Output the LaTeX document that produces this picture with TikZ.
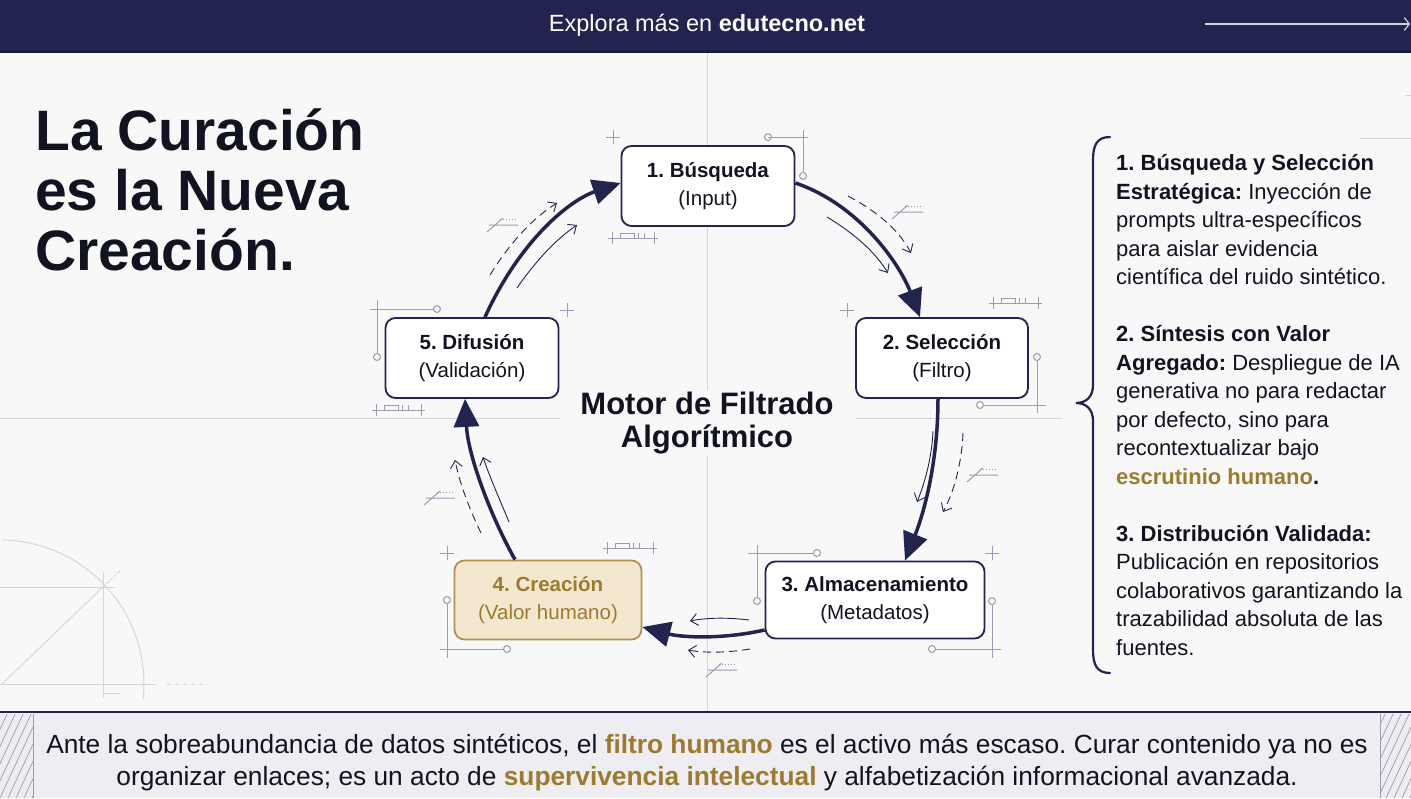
\documentclass[tikz,border=0pt]{standalone}
\usepackage{fontspec}
\setmainfont{Liberation Sans}
\usetikzlibrary{arrows.meta,calc}
\frenchspacing
\definecolor{navy}{HTML}{22244F}
\definecolor{navydk}{HTML}{15163A}
\definecolor{ink}{HTML}{111320}
\definecolor{bg}{HTML}{F8F8F8}
\definecolor{gridc}{HTML}{D4D5DF}
\definecolor{decoc}{HTML}{9A9CB2}
\definecolor{goldfill}{HTML}{F3E8CF}
\definecolor{goldline}{HTML}{B39150}
\definecolor{goldtext}{HTML}{9C7B2F}
\definecolor{bandfill}{HTML}{EDEDF2}
\tikzset{
  stage/.style={draw=navy, line width=1.8pt, rounded corners=10pt, fill=white, align=center,
    font=\fontsize{20.5}{28}\selectfont, text=ink, inner sep=0pt},
  goldstage/.style={stage, draw=goldline, fill=goldfill, text=goldtext},
  mainarrow/.style={draw=navy, line width=3.5pt, -{Triangle[length=28pt,width=25pt]}},
  thinarrow/.style={draw=navy, line width=0.9pt, -{Straight Barb[length=7pt,width=12pt]}},
  dasharrow/.style={thinarrow, dash pattern=on 8pt off 5pt},
  faint/.style={draw=gridc, line width=1pt},
  deco/.style={draw=decoc, line width=1pt},
}
\newcommand\plusmk[2]{\draw[deco] (#1-7,#2)--(#1+7,#2) (#1,#2-7)--(#1,#2+7);}
\newcommand\rulermk[3]{\draw[deco] (#1,#2)--(#1+#3,#2) (#1+4,#2-6)--(#1+4,#2+6) (#1+#3-4,#2-6)--(#1+#3-4,#2+6)
  (#1+12,#2) rectangle (#1+26,#2-5) (#1+30,#2-5)--(#1+30,#2) (#1+36,#2-5)--(#1+36,#2);}
\newcommand\slashmk[2]{\draw[deco] (#1,#2+7)--(#1+16,#2-7) (#1+2,#2)--(#1+31,#2);
  \draw[deco,dotted] (#1+13,#2-6)--(#1+31,#2-6);}
\begin{document}
\begin{tikzpicture}[x=1pt,y=-1pt]
\useasboundingbox (0,0) rectangle (1411,798);
\fill[bg] (0,0) rectangle (1411,798);

% faint grid
\draw[faint] (707,52)--(707,712);
\draw[faint] (0,418)--(560,418) (856,418)--(1062,418);
\draw[faint] (1360,138)--(1411,138) (1405,95)--(1411,95);

% bottom-left construction drawing
\begin{scope}[faint]
\draw (3,540) arc[start angle=-88.8, end angle=6, radius=144];
\draw (0,684)--(156,684);
\draw[dash pattern=on 4pt off 4pt] (167,684)--(208,684);
\draw (0,587)--(115,587);
\draw (103,572)--(103,698) (103,693)--(120,693);
\draw (2,684)--(103,587);
\draw[dash pattern=on 3pt off 2pt] (103,587)--(121,570);
\end{scope}

% header
\fill[navy] (0,0) rectangle (1411,52);
\draw[navydk, line width=2pt] (0,52)--(1411,52);
\node[text=white, font=\fontsize{23.5}{27}\selectfont] (hdr) at (707,25) {Explora más en \textbf{edutecno.net}};
\coordinate (ha) at (1205,24);
\coordinate (hb) at (1410,24);
\draw[white!80!navy, line width=1.2pt, -{Straight Barb[length=5pt,width=13pt]}] (ha)--(hb);

% title
\node[anchor=base west, align=left, inner sep=0pt, text=ink,
  font=\fontsize{57}{60}\selectfont\bfseries] (title) at (35,270)
  {La Curación\\es la Nueva\\Creación.};

% centre label
\node[anchor=base, align=center, inner sep=2pt, fill=bg, text=ink,
  font=\fontsize{31}{33}\selectfont\bfseries] (motor) at (707,447)
  {Motor de Filtrado\\Algorítmico};

% decorations near boxes
\plusmk{613}{137} \plusmk{567}{310} \plusmk{847}{310} \plusmk{992}{553} \plusmk{447}{553}
\rulermk{608}{238}{50} \rulermk{372}{410}{53} \rulermk{989}{303}{53} \rulermk{603}{548}{54}
\begin{scope}[deco]
\draw (768,137)--(808,137) (803,130)--(803,172);
\draw (768,137) circle[radius=3.5] (803,176) circle[radius=3.5];
\draw (370,309)--(433,309) (377,300)--(377,353);
\draw (437,309) circle[radius=3.5] (377,357) circle[radius=3.5];
\draw (1037,361)--(1037,413) (984,405)--(1046,405);
\draw (1037,357) circle[radius=3.5] (980,405) circle[radius=3.5];
\draw (748,553)--(813,553) (757,545)--(757,597);
\draw (817,553) circle[radius=3.5] (757,601) circle[radius=3.5];
\draw (992,605)--(992,658) (936,649)--(1001,649);
\draw (992,601) circle[radius=3.5] (932,649) circle[radius=3.5];
\draw (447,604)--(447,658) (440,649)--(503,649);
\draw (447,600) circle[radius=3.5] (507,649) circle[radius=3.5];
\end{scope}
\slashmk{892}{212} \slashmk{487}{225} \slashmk{967}{475} \slashmk{424}{498} \slashmk{706}{670}

% stage boxes
\node[stage, minimum width=173pt, minimum height=80pt] (b1) at (708,186) {\textbf{1. Búsqueda}\\(Input)};
\node[stage, minimum width=172pt, minimum height=80pt] (b2) at (942,358) {\textbf{2. Selección}\\(Filtro)};
\node[stage, minimum width=219pt, minimum height=77pt] (b3) at (875,600) {\textbf{3. Almacenamiento}\\(Metadatos)};
\node[goldstage, minimum width=187pt, minimum height=79pt] (b4) at (548,600) {\textbf{4. Creación}\\(Valor humano)};
\node[stage, minimum width=173pt, minimum height=80pt] (b5) at (472,358) {\textbf{5. Difusión}\\(Validación)};

% main cycle arrows
\draw[mainarrow] ($(b1.east)+(0,-3)$) .. controls (860,205) and (900,265) .. ($(b2.north)+(-22,0)$);
\draw[mainarrow] ($(b2.south)+(-4,0)$) .. controls (938,460) and (925,510) .. ($(b3.north)+(30,0)$);
\draw[mainarrow] ($(b3.west)+(0,30)$) .. controls (720,640) and (680,637) .. ($(b4.east)+(0,27)$);
\draw[mainarrow] ($(b4.north)+(-33,0)$) .. controls (490,515) and (468,455) .. ($(b5.south)+(-7,0)$);
\draw[mainarrow] ($(b5.north)+(13,0)$) .. controls (520,240) and (570,200) .. ($(b1.west)+(0,-3)$);

% companion thin arrows
\coordinate (s1a) at (848,196); \coordinate (s1b) at (911,253);
\coordinate (s1c) at (827,217); \coordinate (s1d) at (888,273);
\draw[dasharrow] (s1a) .. controls (880,213) and (900,232) .. (s1b);
\draw[thinarrow] (s1c) .. controls (855,234) and (875,252) .. (s1d);
\coordinate (s5a) at (490,275); \coordinate (s5b) at (557,203);
\coordinate (s5c) at (517,288); \coordinate (s5d) at (577,225);
\draw[dasharrow] (s5a) .. controls (508,246) and (530,220) .. (s5b);
\draw[thinarrow] (s5c) .. controls (535,262) and (555,240) .. (s5d);
\coordinate (s2a) at (933,431); \coordinate (s2b) at (917,502);
\coordinate (s2c) at (963,433); \coordinate (s2d) at (943,512);
\draw[thinarrow] (s2a) .. controls (932,455) and (926,480) .. (s2b);
\draw[dasharrow] (s2c) .. controls (962,460) and (955,490) .. (s2d);
\coordinate (s4a) at (481,533); \coordinate (s4b) at (455,460);
\coordinate (s4c) at (509,522); \coordinate (s4d) at (483,457);
\draw[dasharrow] (s4a) .. controls (470,510) and (460,485) .. (s4b);
\draw[thinarrow] (s4c) .. controls (500,500) and (490,478) .. (s4d);
\coordinate (s3a) at (749,620); \coordinate (s3b) at (690,621);
\coordinate (s3c) at (750,649); \coordinate (s3d) at (688,650);
\draw[thinarrow] (s3a) .. controls (725,617) and (705,618) .. (s3b);
\draw[dasharrow] (s3c) .. controls (725,653) and (705,653) .. (s3d);

% right brace
\draw[navy, line width=2.2pt, line cap=round]
  (1110,137) .. controls (1097,137) and (1093,145) .. (1093,160) -- (1093,385)
  .. controls (1093,397) and (1086,403) .. (1076,403)
  .. controls (1086,403) and (1093,409) .. (1093,421) -- (1093,650)
  .. controls (1093,665) and (1097,673) .. (1110,673);

% right panel text
\node[anchor=base west, align=left, inner sep=0pt, text=ink,
  font=\fontsize{22}{28.5}\selectfont] (panel) at (1116,655)
  {\textbf{1. Búsqueda y Selección}\\
   \textbf{Estratégica:} Inyección de\\
   prompts ultra-específicos\\
   para aislar evidencia\\
   científica del ruido sintético.\\[28.5pt]
   \textbf{2. Síntesis con Valor}\\
   \textbf{Agregado:} Despliegue de IA\\
   generativa no para redactar\\
   por defecto, sino para\\
   recontextualizar bajo\\
   \textbf{\textcolor{goldtext}{escrutinio humano}.}\\[28.5pt]
   \textbf{3. Distribución Validada:}\\
   Publicación en repositorios\\
   colaborativos garantizando la\\
   trazabilidad absoluta de las\\
   fuentes.};

% bottom band
\fill[bandfill] (0,712) rectangle (1411,798);
\begin{scope}
\clip (0,714) rectangle (33,798);
\foreach \k in {0,8,...,120} {\draw[decoc, line width=0.7pt] (\k-40,798)--(\k,712);}
\end{scope}
\begin{scope}
\clip (1380,714) rectangle (1411,798);
\foreach \k in {1370,1378,...,1490} {\draw[decoc, line width=0.7pt] (\k-40,798)--(\k,712);}
\end{scope}
\draw[decoc, line width=1pt] (33,714)--(33,798) (1380,714)--(1380,798);
\draw[navy, line width=2.5pt] (0,712)--(1411,712);
\node[anchor=base, align=center, inner sep=0pt, text=ink,
  font=\fontsize{26.3}{32}\selectfont] (foot) at (707,785)
  {Ante la sobreabundancia de datos sintéticos, el \textbf{\textcolor{goldtext}{filtro humano}} es el activo más escaso. Curar contenido ya no es\\
   organizar enlaces; es un acto de \textbf{\textcolor{goldtext}{supervivencia intelectual}} y alfabetización informacional avanzada.};
\end{tikzpicture}
\end{document}
